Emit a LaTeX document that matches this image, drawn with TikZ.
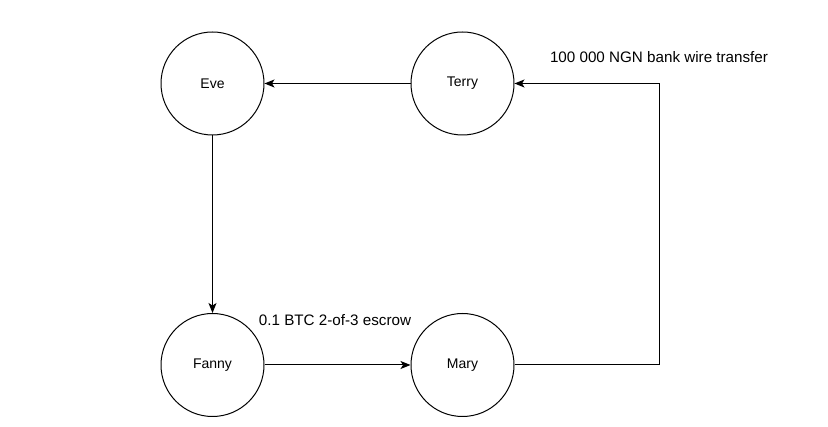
\documentclass[tikz,border=0pt]{standalone}
\usepackage{fontspec}
\setmainfont{Liberation Sans}
\usetikzlibrary{arrows.meta}
\tikzset{
  person/.style={draw, circle, minimum size=103pt, inner sep=0pt, line width=1pt, font=\fontsize{14}{16}\selectfont},
  flow/.style={line width=1pt, -{Stealth[length=10pt,width=8pt,inset=2.5pt]}},
  lbl/.style={font=\fontsize{15.2}{18}\selectfont, inner sep=0pt}
}
\begin{document}
\begin{tikzpicture}[x=1pt,y=-1pt]
\useasboundingbox[fill=white] (0,0) rectangle (828,427);
\node[person] (eve) at (212.5,83.5) {Eve};
\node[person] (terry) at (462.5,83.5) {Terry};
\node[person] (fanny) at (212.5,365) {Fanny};
\node[person] (mary) at (462.5,365) {Mary};
\coordinate (corner) at (659.5,83.5);
\draw[flow] (terry.west) -- (eve.east);
\draw[flow] (eve.south) -- (fanny.north);
\draw[flow] (fanny.east) -- (mary.west);
\draw[flow] (mary.east) -| (corner) -- (terry.east);
\node[lbl] (wire) at (659,57) {100 000 NGN bank wire transfer};
\node[lbl] (btc) at (335,320) {0.1 BTC 2-of-3 escrow};
\end{tikzpicture}
\end{document}
